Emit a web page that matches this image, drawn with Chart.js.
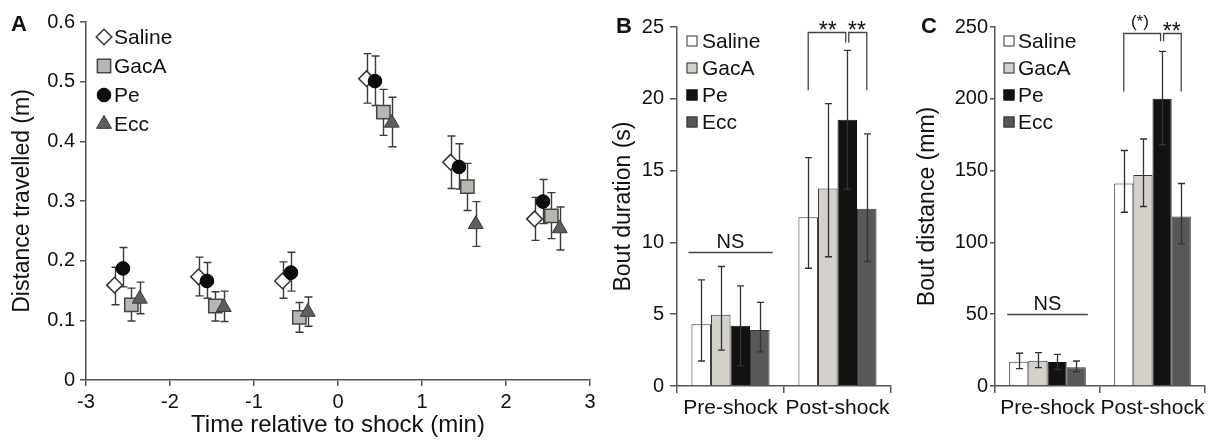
<!DOCTYPE html>
<html>
<head>
<meta charset="utf-8">
<script src="https://cdn.jsdelivr.net/npm/chart.js@4.4.0/dist/chart.umd.min.js"></script>
<style>
  html, body { margin: 0; padding: 0; background: #fff; }
  #wrap { position: relative; width: 1215px; height: 440px; font-family: "Liberation Sans", Arial, sans-serif; }
  canvas { position: absolute; top: 0; }
  .tag { position: absolute; font-weight: bold; font-size: 22px; line-height: 22px; color: #111; }
</style>
</head>
<body>
<div id="wrap">
  <canvas id="chartA" width="605" height="440" style="left:0"></canvas>
  <canvas id="chartB" width="305" height="440" style="left:605px"></canvas>
  <canvas id="chartC" width="305" height="440" style="left:910px"></canvas>
  <div class="tag" style="left:11px;top:13px">A</div>
  <div class="tag" style="left:616px;top:15px">B</div>
  <div class="tag" style="left:921px;top:15px">C</div>
</div>
<script>
// ---- panel A: distance travelled per minute ----
const timeA = [-2.5, -1.5, -0.5, 0.5, 1.5, 2.5];
const salineA   = [0.159, 0.173, 0.166, 0.505, 0.365, 0.270];
const salineAHi = [0.189, 0.206, 0.198, 0.547, 0.409, 0.306];
const salineALo = [0.126, 0.141, 0.137, 0.464, 0.321, 0.234];
const gacaA     = [0.126, 0.124, 0.105, 0.449, 0.324, 0.275];
const gacaAHi   = [0.154, 0.148, 0.130, 0.487, 0.363, 0.314];
const gacaALo   = [0.099, 0.099, 0.080, 0.410, 0.284, 0.237];
const peA       = [0.187, 0.166, 0.180, 0.501, 0.357, 0.299];
const peAHi     = [0.222, 0.197, 0.214, 0.543, 0.396, 0.336];
const peALo     = [0.156, 0.137, 0.149, 0.460, 0.320, 0.262];
const eccA      = [0.136, 0.122, 0.114, 0.431, 0.261, 0.254];
const eccAHi    = [0.164, 0.149, 0.139, 0.474, 0.299, 0.290];
const eccALo    = [0.111, 0.098, 0.090, 0.391, 0.224, 0.218];

// ---- panels B and C: bouts ----
const groups = ['Pre-shock', 'Post-shock'];
const durSaline = [4.3, 11.76],  durSalineHi = [7.39, 15.9],  durSalineLo = [1.74, 8.2];
const durGacA   = [4.97, 13.75], durGacAHi   = [8.32, 19.66], durGacALo   = [2.5, 9.0];
const durPe     = [4.2, 18.54],  durPeHi     = [6.97, 23.37], durPeLo     = [1.4, 13.7];
const durEcc    = [3.9, 12.34],  durEccHi    = [5.83, 17.56], durEccLo    = [2.37, 8.67];

const distSaline = [16.9, 141], distSalineHi = [22.8, 164], distSalineLo = [12.1, 121];
const distGacA   = [17.6, 147], distGacAHi   = [23.2, 172], distGacALo   = [12.8, 125];
const distPe     = [16.7, 200], distPeHi     = [22.0, 233], distPeLo     = [11.5, 168];
const distEcc    = [13.0, 118], distEccHi    = [17.4, 141], distEccLo    = [10.0, 99];

const FONT = '"Liberation Sans", Arial, sans-serif';
const INK = '#111';
const AXIS = '#555';

// error bars: vertical whiskers with caps, from errLo/errHi on each dataset
const errorBars = {
  id: 'errorBars',
  drawBars(chart, opts) {
    const ctx = chart.ctx, y = chart.scales.y;
    ctx.save();
    ctx.strokeStyle = opts.color || '#333';
    ctx.lineWidth = opts.width || 1.3;
    chart.data.datasets.forEach((ds, i) => {
      if (!ds.errHi) return;
      chart.getDatasetMeta(i).data.forEach((el, j) => {
        const x = Math.round(el.x) + 0.5;
        const top = y.getPixelForValue(ds.errHi[j]);
        const bot = y.getPixelForValue(ds.errLo[j]);
        const c = opts.cap || 4;
        ctx.beginPath();
        ctx.moveTo(x, top); ctx.lineTo(x, bot);
        ctx.moveTo(x - c, top); ctx.lineTo(x + c, top);
        ctx.moveTo(x - c, bot); ctx.lineTo(x + c, bot);
        ctx.stroke();
      });
    });
    ctx.restore();
  },
  beforeDatasetsDraw(chart, args, opts) { if (opts.under) this.drawBars(chart, opts); },
  afterDatasetsDraw(chart, args, opts) { if (!opts.under) this.drawBars(chart, opts); }
};

// legend drawn inside the plot area, top-left
const innerLegend = {
  id: 'innerLegend',
  afterDraw(chart, args, opts) {
    const ctx = chart.ctx, area = chart.chartArea;
    ctx.save();
    ctx.font = '21px ' + FONT;
    ctx.textBaseline = 'middle';
    chart.data.datasets.forEach((ds, i) => {
      const cy = area.top + opts.top + i * opts.step;
      const mx = area.left + opts.markX;
      ctx.fillStyle = ds.backgroundColor;
      ctx.strokeStyle = ds.borderColor;
      ctx.lineWidth = ds.borderWidth || 1;
      if (opts.box) {
        const s = opts.box;
        ctx.fillRect(mx - s / 2, cy - s / 2, s, s);
        ctx.strokeRect(mx - s / 2 + 0.5, cy - s / 2 + 0.5, s - 1, s - 1);
      } else {
        Chart.helpers.drawPoint(ctx, {
          pointStyle: ds.pointStyle, radius: ds.pointRadius,
          rotation: 0, borderWidth: ds.borderWidth
        }, mx, cy);
      }
      ctx.fillStyle = INK;
      ctx.fillText(ds.label, area.left + opts.textX, cy + 1);
    });
    ctx.restore();
  }
};

// NS line and significance brackets
const sigMarks = {
  id: 'sigMarks',
  afterDraw(chart, args, opts) {
    if (!opts.ns) return;
    const ctx = chart.ctx, y = chart.scales.y;
    const bar = (d, c) => chart.getDatasetMeta(d).data[c];
    ctx.save();
    ctx.strokeStyle = '#444';
    ctx.fillStyle = INK;
    ctx.lineWidth = 1.3;
    ctx.textAlign = 'center';

    const first = bar(0, 0), last = bar(3, 0);
    const x0 = first.x - first.width / 2 - opts.ns.ext, x1 = last.x + last.width / 2 + opts.ns.ext;
    const ny = Math.round(y.getPixelForValue(opts.ns.value)) + 0.5;
    ctx.beginPath(); ctx.moveTo(x0, ny); ctx.lineTo(x1, ny); ctx.stroke();
    ctx.font = '20px ' + FONT;
    ctx.fillText('NS', (x0 + x1) / 2, ny - 5);

    const top = Math.round(y.getPixelForValue(opts.top)) + 0.5;
    const leg = y.getPixelForValue(opts.leg);
    const inner = y.getPixelForValue(opts.inner);
    const xs = bar(0, 1).x, xp = bar(2, 1).x, xe = bar(3, 1).x;
    ctx.beginPath();
    ctx.moveTo(xs, leg); ctx.lineTo(xs, top); ctx.lineTo(xp - 1.5, top); ctx.lineTo(xp - 1.5, inner);
    ctx.moveTo(xp + 1.5, inner); ctx.lineTo(xp + 1.5, top); ctx.lineTo(xe, top); ctx.lineTo(xe, leg);
    ctx.stroke();
    opts.labels.forEach((t, k) => {
      const cx = k === 0 ? (xs + xp) / 2 + (opts.shift || 0) : (xp + xe) / 2;
      if (t === '(*)') {
        ctx.font = '17px ' + FONT;
        ctx.fillText(t, cx, top - 7);
      } else {
        ctx.font = '23px ' + FONT;
        ctx.fillText(t, cx, top + 5);
      }
    });
    ctx.restore();
  }
};

function axisGrid(len) {
  return { drawOnChartArea: false, drawTicks: true, tickLength: len, color: AXIS, lineWidth: 1.5 };
}
const axisBorder = { color: AXIS, width: 1.5 };

// ---------------- chart A ----------------
function pts(vals, off) { return timeA.map((t, i) => ({ x: t + off, y: vals[i] })); }

new Chart(document.getElementById('chartA'), {
  type: 'scatter',
  data: {
    datasets: [
      { label: 'Saline', data: pts(salineA, -0.16), errHi: salineAHi, errLo: salineALo, order: 4,
        pointStyle: 'rectRot', pointRadius: 7.8, backgroundColor: '#fff', borderColor: '#333', borderWidth: 1.5 },
      { label: 'GacA', data: pts(gacaA, 0.04), errHi: gacaAHi, errLo: gacaALo, order: 2,
        pointStyle: 'rect', pointRadius: 9.4, backgroundColor: '#b9b5b1', borderColor: '#444', borderWidth: 1.5 },
      { label: 'Pe', data: pts(peA, -0.06), errHi: peAHi, errLo: peALo, order: 3,
        pointStyle: 'circle', pointRadius: 6.8, backgroundColor: '#0d0d0d', borderColor: '#000', borderWidth: 1 },
      { label: 'Ecc', data: pts(eccA, 0.14), errHi: eccAHi, errLo: eccALo, order: 1,
        pointStyle: 'triangle', pointRadius: 8.6, backgroundColor: '#5e5e5e', borderColor: '#3a3a3a', borderWidth: 1 }
    ]
  },
  options: {
    responsive: false,
    animation: false,
    layout: { padding: { left: 0, right: 15, top: 22, bottom: 0 } },
    plugins: {
      legend: { display: false },
      tooltip: { enabled: false },
      errorBars: { under: true, cap: 4, width: 1.4, color: '#3a3a3a' },
      innerLegend: { top: 15, step: 29, markX: 18, textX: 28 }
    },
    scales: {
      x: {
        type: 'linear', min: -3, max: 3,
        afterFit: s => { s.height = 60; },
        ticks: { stepSize: 1, color: INK, padding: 4, font: { size: 20, family: FONT } },
        grid: axisGrid(6), border: axisBorder,
        title: { display: true, text: 'Time relative to shock (min)', color: INK,
                 padding: { top: 0, bottom: 0 }, font: { size: 24, family: FONT } }
      },
      y: {
        min: 0, max: 0.6,
        afterFit: s => { s.width = 86; },
        ticks: { stepSize: 0.1, color: INK, padding: 5, font: { size: 20, family: FONT } },
        grid: axisGrid(6), border: axisBorder,
        title: { display: true, text: 'Distance travelled (m)', color: INK,
                 padding: { top: 9, bottom: 0 }, font: { size: 23, family: FONT } }
      }
    }
  },
  plugins: [errorBars, innerLegend]
});

// ---------------- charts B and C ----------------
function barSets(s, g, p, e) {
  return [
    { label: 'Saline', data: s[0], errHi: s[1], errLo: s[2], backgroundColor: '#fff', borderColor: '#333', borderWidth: 1 },
    { label: 'GacA', data: g[0], errHi: g[1], errLo: g[2], backgroundColor: '#d4d1cb', borderColor: '#333', borderWidth: 1 },
    { label: 'Pe', data: p[0], errHi: p[1], errLo: p[2], backgroundColor: '#141211', borderColor: '#111', borderWidth: 1 },
    { label: 'Ecc', data: e[0], errHi: e[1], errLo: e[2], backgroundColor: '#5a5856', borderColor: '#333', borderWidth: 1 }
  ];
}

function barChart(id, sets, yMax, yStep, yTitle, o) {
  return new Chart(document.getElementById(id), {
    type: 'bar',
    data: { labels: groups, datasets: sets.map(d => Object.assign(d, { categoryPercentage: 0.73, barPercentage: 1.0 })) },
    options: {
      responsive: false,
      animation: false,
      layout: { padding: { left: 0, right: o.right, top: 27, bottom: 0 } },
      plugins: {
        legend: { display: false },
        tooltip: { enabled: false },
        errorBars: { under: false, cap: 3.5, width: 1.3, color: '#333' },
        innerLegend: { top: 14, step: 27, markX: o.markX, textX: o.textX, box: 11 },
        sigMarks: o.marks
      },
      scales: {
        x: {
          offset: true,
          afterFit: s => { s.height = 54; },
          ticks: { color: INK, padding: 3, maxRotation: 0, autoSkip: false, font: { size: 21, family: FONT } },
          grid: Object.assign(axisGrid(7), { offset: true }), border: axisBorder
        },
        y: {
          min: 0, max: yMax,
          afterFit: s => { s.width = o.yWidth; },
          ticks: { stepSize: yStep, color: INK, padding: o.tickPad, font: { size: 20, family: FONT } },
          grid: axisGrid(o.tickLen), border: axisBorder,
          title: { display: true, text: yTitle, color: INK,
                   padding: { top: o.titlePad, bottom: 0 }, font: { size: 23, family: FONT } }
        }
      }
    },
    plugins: [errorBars, innerLegend, sigMarks]
  });
}

barChart('chartB',
  barSets([durSaline, durSalineHi, durSalineLo], [durGacA, durGacAHi, durGacALo],
          [durPe, durPeHi, durPeLo], [durEcc, durEccHi, durEccLo]),
  25, 5, 'Bout duration (s)',
  { right: 19, yWidth: 72, tickLen: 7, tickPad: 6, titlePad: 5, markX: 15, textX: 25,
    marks: { ns: { value: 9.3, ext: 3 }, top: 24.65, leg: 20.6, inner: 23.9, labels: ['**', '**'] } });

barChart('chartC',
  barSets([distSaline, distSalineHi, distSalineLo], [distGacA, distGacAHi, distGacALo],
          [distPe, distPeHi, distPeLo], [distEcc, distEccHi, distEccLo]),
  250, 50, 'Bout distance (mm)',
  { right: 10, yWidth: 85, tickLen: 5, tickPad: 2, titlePad: 4, markX: 14, textX: 23,
    marks: { ns: { value: 50, ext: 2 }, top: 246, leg: 205, inner: 240, labels: ['(*)', '**'], shift: -3 } });
</script>
</body>
</html>
